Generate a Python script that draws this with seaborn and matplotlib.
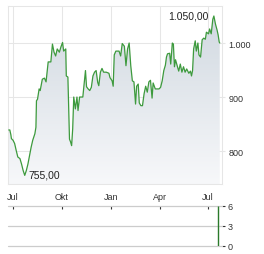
import matplotlib
matplotlib.use("Agg")
import matplotlib.pyplot as plt
import matplotlib.dates as mdates
from matplotlib.colors import LinearSegmentedColormap
import numpy as np
import pandas as pd
import seaborn as sns

# ---- data ----
dates = ["2023-06-23", "2023-06-25", "2023-06-27", "2023-06-28", "2023-07-01", "2023-07-04",
         "2023-07-07", "2023-07-10", "2023-07-14", "2023-07-17", "2023-07-20", "2023-07-23",
         "2023-07-26", "2023-07-29", "2023-08-01", "2023-08-04", "2023-08-07", "2023-08-11",
         "2023-08-13", "2023-08-14", "2023-08-16", "2023-08-19", "2023-08-21", "2023-08-25",
         "2023-08-29", "2023-09-01", "2023-09-05", "2023-09-10", "2023-09-13", "2023-09-16",
         "2023-09-19", "2023-09-22", "2023-09-26", "2023-09-29", "2023-10-02", "2023-10-04",
         "2023-10-08", "2023-10-09", "2023-10-12", "2023-10-15", "2023-10-17", "2023-10-19",
         "2023-10-21", "2023-10-23", "2023-10-26", "2023-10-29", "2023-10-31", "2023-11-03",
         "2023-11-09", "2023-11-14", "2023-11-16", "2023-11-19", "2023-11-22", "2023-11-25",
         "2023-11-28", "2023-12-01", "2023-12-04", "2023-12-07", "2023-12-09", "2023-12-12",
         "2023-12-15", "2023-12-18", "2023-12-23", "2023-12-28", "2023-12-30", "2024-01-03",
         "2024-01-05", "2024-01-07", "2024-01-10", "2024-01-13", "2024-01-16", "2024-01-19",
         "2024-01-22", "2024-01-26", "2024-01-29", "2024-02-01", "2024-02-04", "2024-02-07",
         "2024-02-10", "2024-02-13", "2024-02-16", "2024-02-18", "2024-02-21", "2024-02-23",
         "2024-02-26", "2024-02-29", "2024-03-03", "2024-03-06", "2024-03-09", "2024-03-12",
         "2024-03-15", "2024-03-18", "2024-03-20", "2024-03-24", "2024-03-27", "2024-03-31",
         "2024-04-03", "2024-04-06", "2024-04-09", "2024-04-12", "2024-04-14", "2024-04-16",
         "2024-04-20", "2024-04-22", "2024-04-25", "2024-04-27", "2024-04-29", "2024-05-01",
         "2024-05-05", "2024-05-07", "2024-05-10", "2024-05-13", "2024-05-16", "2024-05-19",
         "2024-05-22", "2024-05-26", "2024-05-29", "2024-05-31", "2024-06-02", "2024-06-04",
         "2024-06-07", "2024-06-09", "2024-06-12", "2024-06-14", "2024-06-17", "2024-06-20",
         "2024-06-23", "2024-06-26", "2024-06-28", "2024-07-02", "2024-07-04", "2024-07-07",
         "2024-07-10", "2024-07-12", "2024-07-15", "2024-07-18", "2024-07-20", "2024-07-22",
         "2024-07-23"]
prices = [839, 839, 830, 823, 820, 814,
          801, 789, 786, 776, 764, 755,
          764, 776, 792, 807, 820, 832,
          844, 893, 896, 915, 912, 933,
          935, 928, 965, 965, 998, 983,
          976, 989, 983, 993, 1001, 985,
          989, 939, 937, 822, 817, 810,
          841, 900, 878, 900, 875, 900,
          900, 949, 919, 915, 912, 918,
          939, 946, 949, 927, 921, 946,
          953, 946, 946, 944, 936, 930,
          920, 978, 985, 985, 985, 976,
          999, 994, 958, 989, 1000, 958,
          930, 928, 887, 920, 924, 889,
          884, 884, 906, 920, 909, 928,
          931, 898, 926, 915, 915, 915,
          918, 930, 949, 959, 974, 980,
          981, 961, 1000, 998, 956, 969,
          955, 948, 961, 946, 956, 946,
          952, 944, 948, 939, 949, 989,
          1004, 985, 1000, 978, 974, 1006,
          1009, 1007, 1020, 1017, 1026, 1017,
          1044, 1050, 1035, 1024, 1015, 1002,
          1000]
vol_dates = ["2024-07-20"]
volumes = [6]
x_tick_dates = ["2023-07-01", "2023-10-01", "2024-01-01", "2024-04-01", "2024-07-01"]
x_tick_labels = ["Jul", "Okt", "Jan", "Apr", "Jul"]
y_ticks = [800, 900, 1000]
y_tick_labels = ["800", "900", "1.000"]
vol_ticks = [0, 3, 6]
vol_tick_labels = ["0", "3", "6"]
max_label = "1.050,00"
min_label = "755,00"

df = pd.DataFrame({"date": pd.to_datetime(dates), "price": prices})

sns.set_style("white")
plt.rcParams["font.family"] = ["Liberation Sans", "DejaVu Sans"]

W, H = 264, 255
fig = plt.figure(figsize=(W / 100, H / 100), dpi=100)
ax = fig.add_axes([8 / W, 1 - 185 / H, 214 / W, 178 / H])
ax2 = fig.add_axes([8 / W, 1 - 247 / H, 214 / W, 40 / H])

line_color = "#3d9a3d"
grid_color = "#e6e6e6"
text_color = "#333333"

xmin = mdates.date2num(pd.Timestamp("2023-06-21 14:00"))
xmax = mdates.date2num(pd.Timestamp("2024-07-27 06:00"))
ymin, ymax = 739, 1068.5

# gradient fill under line
xnum = mdates.date2num(df["date"])
poly = ax.fill_between(xnum, df["price"], ymin, color="none", lw=0)
grad = np.linspace(0, 1, 256).reshape(-1, 1)
cmap = LinearSegmentedColormap.from_list("g", ["#d0d8e0", "#f7f8fa"])
img = ax.imshow(grad, aspect="auto", cmap=cmap, extent=[xmin, xmax, ymin, 1060],
                origin="upper", zorder=1)
img.set_clip_path(poly.get_paths()[0], transform=ax.transData)

sns.lineplot(data=df, x="date", y="price", ax=ax, color=line_color, linewidth=0.9, zorder=3)

ax.set_xlim(xmin, xmax)
ax.set_ylim(ymin, ymax)
ax.set_xlabel("")
ax.set_ylabel("")

tick_nums = mdates.date2num(pd.to_datetime(x_tick_dates))
ax.set_xticks(tick_nums)
ax.set_xticklabels(x_tick_labels)
ax.set_yticks(y_ticks)
ax.set_yticklabels(y_tick_labels)
ax.yaxis.tick_right()
ax.grid(True, color=grid_color, linewidth=0.75, zorder=0)
ax.set_axisbelow(True)
ax.tick_params(axis="x", length=0, pad=5.5, labelsize=6.5, labelcolor=text_color)
ax.tick_params(axis="y", length=2, color=grid_color, pad=2.5, labelsize=6.5, labelcolor=text_color)
for s in ax.spines.values():
    s.set_color(grid_color)
    s.set_linewidth(0.75)

# annotations for max / min
imax = int(np.argmax(prices))
imin = int(np.argmin(prices))
ax.annotate(max_label, xy=(xnum[imax], prices[imax]), xytext=(-4, 0), textcoords="offset points",
            ha="right", va="center", fontsize=7.5, color="#222222", zorder=4)
ax.annotate(min_label, xy=(xnum[imin], prices[imin]), xytext=(2.5, 0.5), textcoords="offset points",
            ha="left", va="center", fontsize=7.5, color="#222222", zorder=4)

# volume panel
vnum = mdates.date2num(pd.to_datetime(vol_dates))
ax2.vlines(vnum, 0, volumes, color="#2a7a2a", linewidth=1.0, zorder=3)
ax2.set_xlim(xmin, xmax)
ax2.set_ylim(0, 6)
for v in vol_ticks:
    ax2.axhline(v, color="#cccccc", linewidth=0.9, clip_on=False, zorder=1)
for s in ax2.spines.values():
    s.set_visible(False)
ax2.set_facecolor("none")
ax2.set_xticks(tick_nums)
ax2.tick_params(axis="x", direction="in", top=True, bottom=False, labeltop=False,
                labelbottom=False, length=2.5, width=0.8, color="#333333")
ax2.set_yticks(vol_ticks)
ax2.set_yticklabels(vol_tick_labels)
ax2.yaxis.tick_right()
ax2.tick_params(axis="y", length=2.5, width=0.8, color="#333333", pad=1.5,
                labelsize=6.5, labelcolor=text_color)

fig.savefig("out.png", dpi=100)
